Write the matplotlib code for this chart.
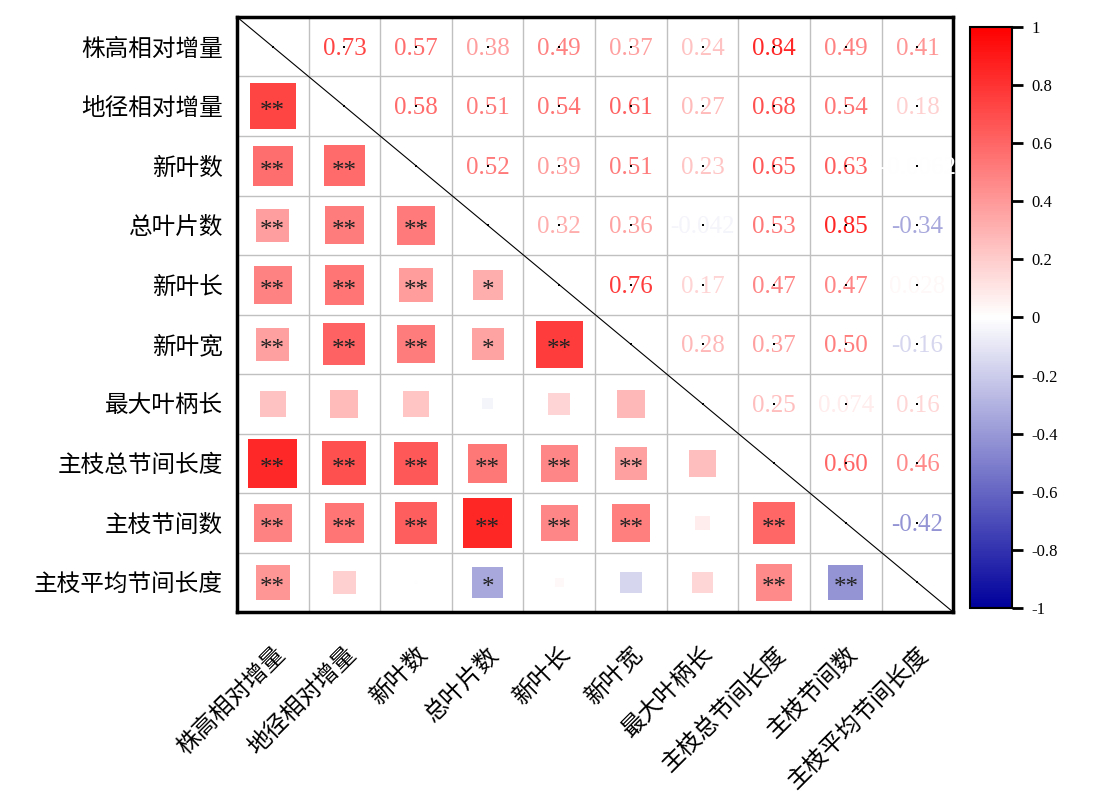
import matplotlib
matplotlib.use("Agg")
import matplotlib.pyplot as plt
import numpy as np
from matplotlib.colors import LinearSegmentedColormap, Normalize

labels = ["株高相对增量", "地径相对增量", "新叶数", "总叶片数", "新叶长",
          "新叶宽", "最大叶柄长", "主枝总节间长度", "主枝节间数", "主枝平均节间长度"]

# 上三角相关系数（逐行，从对角线右侧开始）
upper_rows = [
    [0.73, 0.57, 0.38, 0.49, 0.37, 0.24, 0.84, 0.49, 0.41],
    [0.58, 0.51, 0.54, 0.61, 0.27, 0.68, 0.54, 0.18],
    [0.52, 0.39, 0.51, 0.23, 0.65, 0.63, -0.0062],
    [0.32, 0.36, -0.042, 0.53, 0.85, -0.34],
    [0.76, 0.17, 0.47, 0.47, 0.028],
    [0.28, 0.37, 0.50, -0.16],
    [0.25, 0.074, 0.16],
    [0.60, 0.46],
    [-0.42],
]

# 下三角显著性标记（逐行，从第一列到对角线左侧）
star_rows = [
    ["**"],
    ["**", "**"],
    ["**", "**", "**"],
    ["**", "**", "**", "*"],
    ["**", "**", "**", "*", "**"],
    ["", "", "", "", "", ""],
    ["**", "**", "**", "**", "**", "**", ""],
    ["**", "**", "**", "**", "**", "**", "", "**"],
    ["**", "", "", "*", "", "", "", "**", "**"],
]

n = len(labels)
corr = np.eye(n)
for i, row in enumerate(upper_rows):
    for k, v in enumerate(row):
        j = i + 1 + k
        corr[i, j] = v
        corr[j, i] = v

cmap = LinearSegmentedColormap.from_list("rwb", ["#00009C", "#FFFFFF", "#FF0000"])
norm = Normalize(vmin=-1, vmax=1)

W, H, DPI = 10.97, 7.93, 100
fig = plt.figure(figsize=(W, H), dpi=DPI)
ax = fig.add_axes([0.216, 0.228, 0.653, 0.7506])
cax = fig.add_axes([0.884, 0.2333, 0.0383, 0.7327])

ax.set_xlim(0, n)
ax.set_ylim(n, 0)

# 网格
for k in range(1, n):
    ax.axhline(k, color="#C0C0C0", lw=1, zorder=0)
    ax.axvline(k, color="#C0C0C0", lw=1, zorder=0)

# 对角线
ax.plot([0, n], [0, n], color="black", lw=0.8, zorder=3)

# 下三角方块：面积 ∝ |r|
cell_h_pt = 0.7506 * H * 72 / n
xs, ys, ss, cs = [], [], [], []
for i in range(1, n):
    for j in range(i):
        r = corr[i, j]
        xs.append(j + 0.5)
        ys.append(i + 0.5)
        ss.append((0.9 * np.sqrt(abs(r)) * cell_h_pt) ** 2)
        cs.append(r)
ax.scatter(xs, ys, s=ss, c=cs, cmap=cmap, norm=norm, marker="s",
           linewidths=0, zorder=2)

for i, row in enumerate(star_rows, start=1):
    for j, st in enumerate(row):
        if st:
            ax.text(j + 0.5, i + 0.6, st, ha="center", va="center",
                    fontsize=18, color="#222222", family="Liberation Serif",
                    zorder=4)

# 上三角数值
for i in range(n):
    for j in range(i + 1, n):
        r = corr[i, j]
        txt = f"{r:.2f}" if abs(r) >= 0.1 else f"{r:.2g}"
        ax.text(j + 0.5, i + 0.53, txt, ha="center", va="center",
                fontsize=18, color=cmap(norm(r)), family="Liberation Serif",
                zorder=4)

# 上三角及对角线中心的小点
dx = [j + 0.5 for i in range(n) for j in range(i, n)]
dy = [i + 0.5 for i in range(n) for j in range(i, n)]
ax.scatter(dx, dy, s=1.2, color="black", marker="s", linewidths=0, zorder=5)

ax.set_xticks(np.arange(n) + 0.5)
ax.set_yticks(np.arange(n) + 0.5)
ax.set_xticklabels(labels, rotation=45, ha="right", rotation_mode="anchor",
                   family=["Noto Sans CJK SC", "DejaVu Sans"], fontsize=17)
ax.set_yticklabels(labels, family=["Noto Sans CJK SC", "DejaVu Sans"],
                   fontsize=17)
ax.tick_params(axis="y", length=0, pad=10)
ax.tick_params(axis="x", length=0, pad=22)
for sp in ax.spines.values():
    sp.set_linewidth(2.5)
    sp.set_color("black")

# 色条
ticks = np.linspace(-1, 1, 11)
sm = plt.cm.ScalarMappable(cmap=cmap, norm=norm)
cb = fig.colorbar(sm, cax=cax, ticks=ticks)
cb.ax.set_yticklabels([f"{t:g}" if abs(t) > 1e-9 else "0" for t in ticks],
                      family="Liberation Serif", fontsize=12)
cb.ax.tick_params(length=8, width=2, direction="out", pad=6)
cb.outline.set_linewidth(1.5)

fig.savefig("out.png", dpi=DPI)
